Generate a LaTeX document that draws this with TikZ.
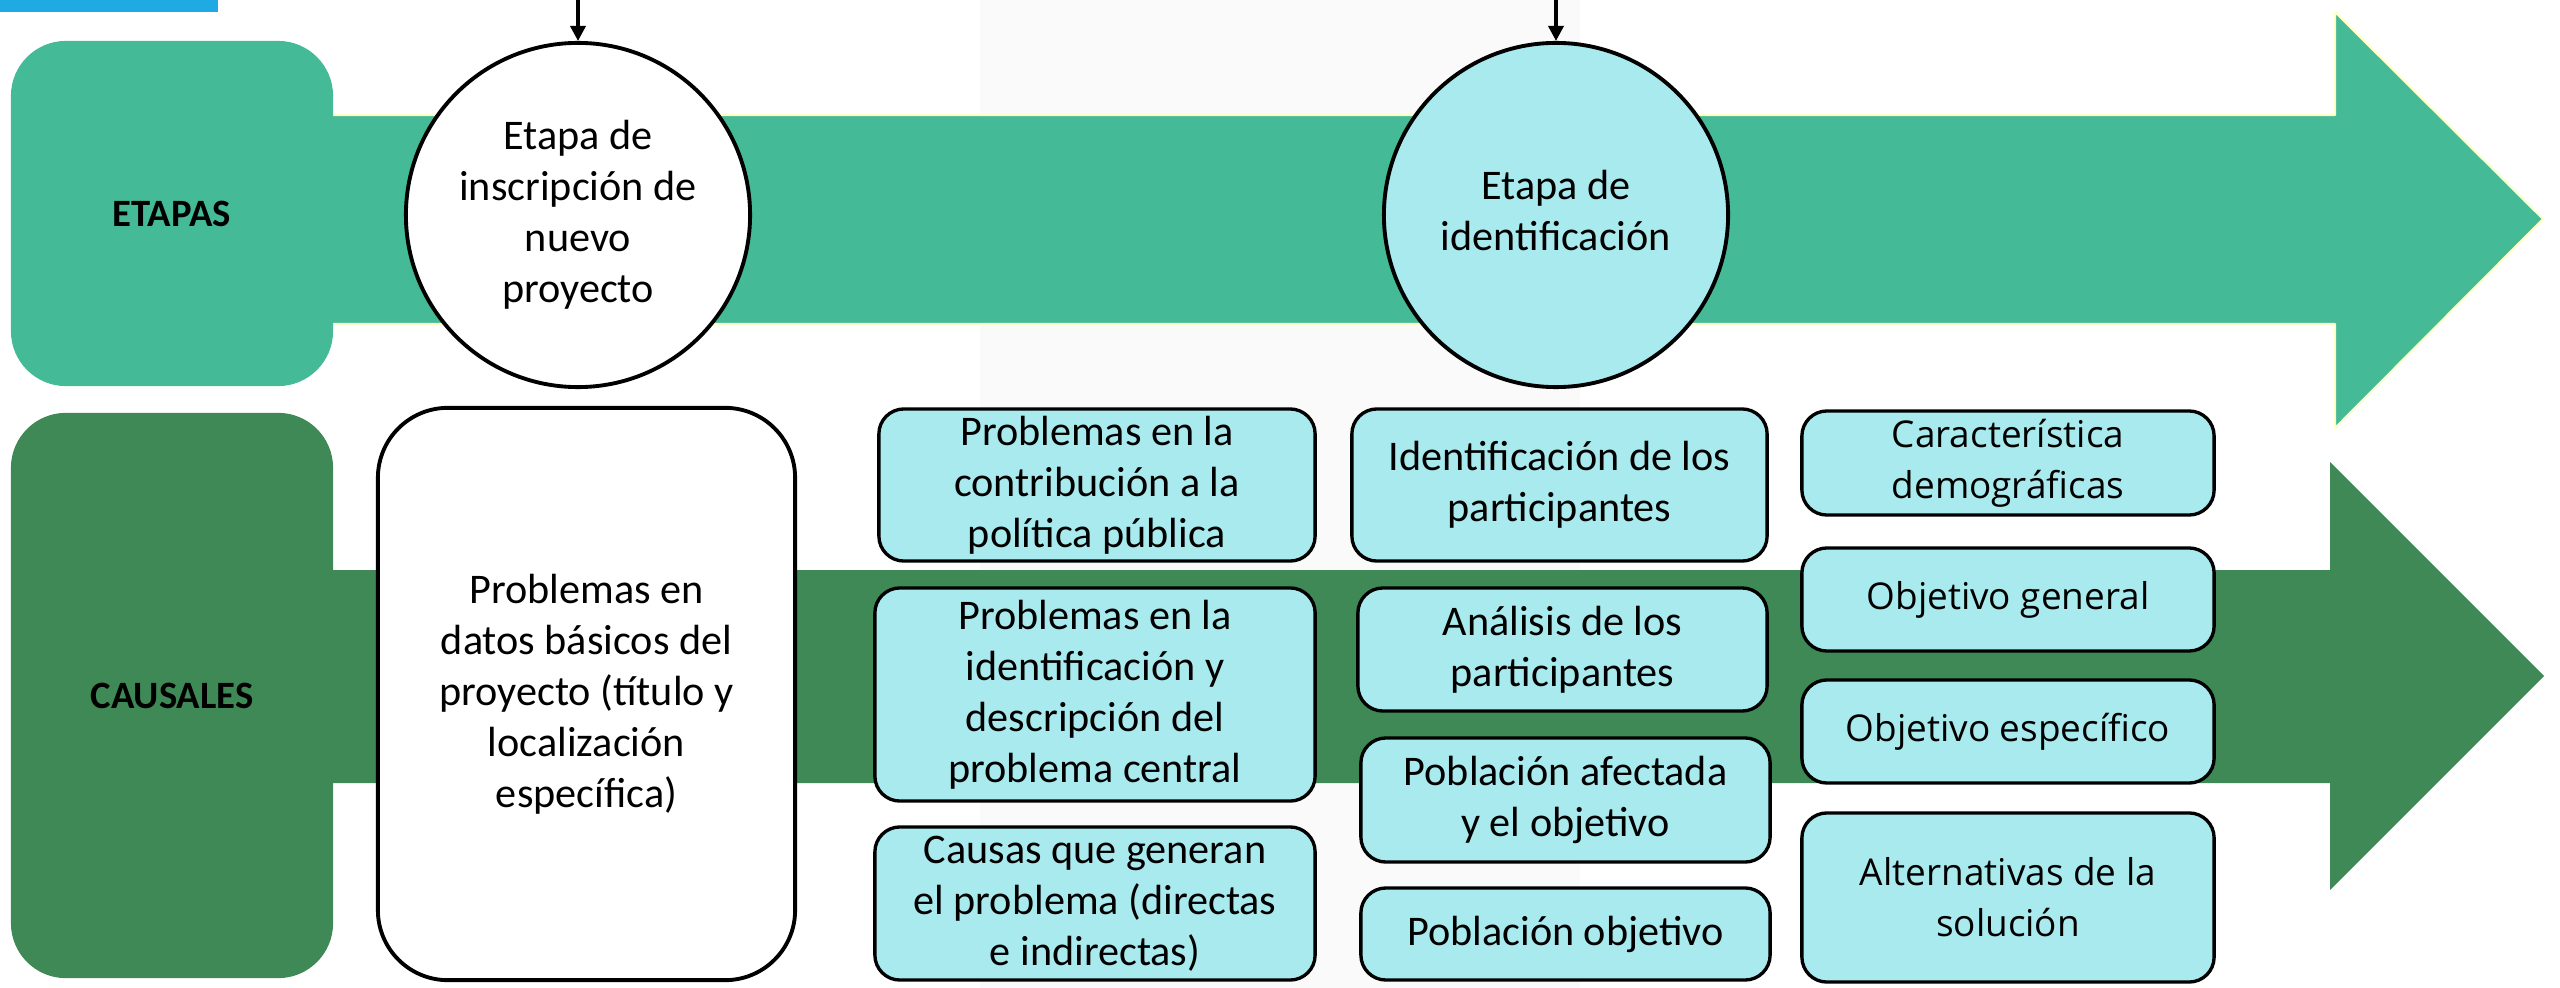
\documentclass[tikz,border=0pt]{standalone}
\usepackage{fontspec}
\setmainfont{Carlito}
\newfontfamily\opensans{Open Sans}
\usepackage{tikz}
\usetikzlibrary{arrows.meta}

\definecolor{etapagreen}{HTML}{44BA97}
\definecolor{causalgreen}{HTML}{3E8955}
\definecolor{boxcyan}{HTML}{A8EAEE}
\definecolor{barblue}{HTML}{1FAAE3}
\definecolor{edgeyellow}{HTML}{FFFFC8}
\definecolor{greybg}{HTML}{FAFAFA}

\tikzset{
  rowlabel/.style={rounded corners=0.55cm,inner sep=0pt,font=\fontsize{11}{13}\selectfont\bfseries},
  stagecircle/.style={circle,draw=black,line width=1.1pt,minimum size=3.44cm,inner sep=0pt,align=center,
    font=\fontsize{12}{14.5}\selectfont},
  causebox/.style={rectangle,rounded corners=0.25cm,draw=black,line width=0.95pt,fill=boxcyan,inner sep=0pt,
    align=center,font=\fontsize{12}{14.5}\selectfont},
  rightbox/.style={causebox,font=\opensans\fontsize{10.5}{14.5}\selectfont},
  feeder/.style={-{Triangle[length=0.15cm,width=0.15cm]},line width=1pt}
}

\begin{document}
\begin{tikzpicture}[x=0.01cm,y=-0.01cm,join=round]
        \useasboundingbox (0,0) rectangle (2560,988);
        \fill[greybg] (980,0) rectangle (1580,988);
        \fill[barblue] (0,0) rectangle (218,12);
        % arrows of the two rows
        \filldraw[fill=etapagreen,draw=edgeyellow,line width=0.6pt]
                (300,115)--(2335,115)--(2335,12)--(2543,219)--(2335,428)--(2335,324)--(300,324)--cycle;
        \fill[causalgreen]
                (300,570)--(2330,570)--(2330,462)--(2544,676)--(2330,890)--(2330,783)--(300,783)--cycle;
        % row labels
        \node[rowlabel,fill=etapagreen,minimum width=3.22cm,minimum height=3.45cm] (etapas) at (172,213.5) {ETAPAS};
        \node[rowlabel,fill=causalgreen,minimum width=3.22cm,minimum height=5.65cm] (causales) at (172,695.5) {CAUSALES};
        % stages
        \node[stagecircle,fill=white] (inscripcion) at (578,215) {Etapa de\\inscripción de\\nuevo\\proyecto};
        \node[stagecircle,fill=boxcyan] (identificacion) at (1556,215)
                {\raisebox{0.08cm}{\begin{tabular}{@{}c@{}}Etapa de\\identificación\end{tabular}}};
        \coordinate (top1) at (inscripcion.north |- 0,0);
        \coordinate (top2) at (identificacion.north |- 0,0);
        \draw[feeder] (top1) -- (inscripcion.north);
        \draw[feeder] (top2) -- (identificacion.north);
        % causes
        \node[causebox,fill=white,rounded corners=0.7cm,line width=1.1pt,minimum width=4.17cm,minimum height=5.72cm]
                (datos) at (586.5,694) {Problemas en\\datos básicos del\\proyecto (título y\\localización\\específica)};
        \node[causebox,minimum width=4.36cm,minimum height=1.52cm] (contribucion) at (1097,485)
                {Problemas en la\\contribución a la\\política pública};
        \node[causebox,minimum width=4.40cm,minimum height=2.13cm] (problema) at (1095,694.5)
                {Problemas en la\\identificación y\\descripción del\\problema central};
        \node[causebox,minimum width=4.40cm,minimum height=1.53cm] (causas) at (1095,903.5)
                {Causas que generan\\el problema (directas\\e indirectas)};
        \node[causebox,minimum width=4.15cm,minimum height=1.52cm] (partid) at (1559.5,485)
                {Identificación de los\\participantes};
        \node[causebox,minimum width=4.09cm,minimum height=1.23cm] (partan) at (1562.5,649.5)
                {Análisis de los\\participantes};
        \node[causebox,minimum width=4.09cm,minimum height=1.24cm] (afectada) at (1565.5,800)
                {Población afectada\\y el objetivo};
        \node[causebox,minimum width=4.09cm,minimum height=0.92cm] (pobobj) at (1565.5,934)
                {Población objetivo};
        \node[rightbox,minimum width=4.12cm,minimum height=1.04cm] (demog) at (2008,463)
                {Característica\\demográficas};
        \node[rightbox,minimum width=4.12cm,minimum height=1.03cm] (objgen) at (2008,599.5)
                {Objetivo general};
        \node[rightbox,minimum width=4.12cm,minimum height=1.03cm] (objesp) at (2008,731.5)
                {Objetivo específico};
        \node[rightbox,minimum width=4.12cm,minimum height=1.69cm] (altern) at (2008,897.5)
                {Alternativas de la\\solución};
\end{tikzpicture}
\end{document}
